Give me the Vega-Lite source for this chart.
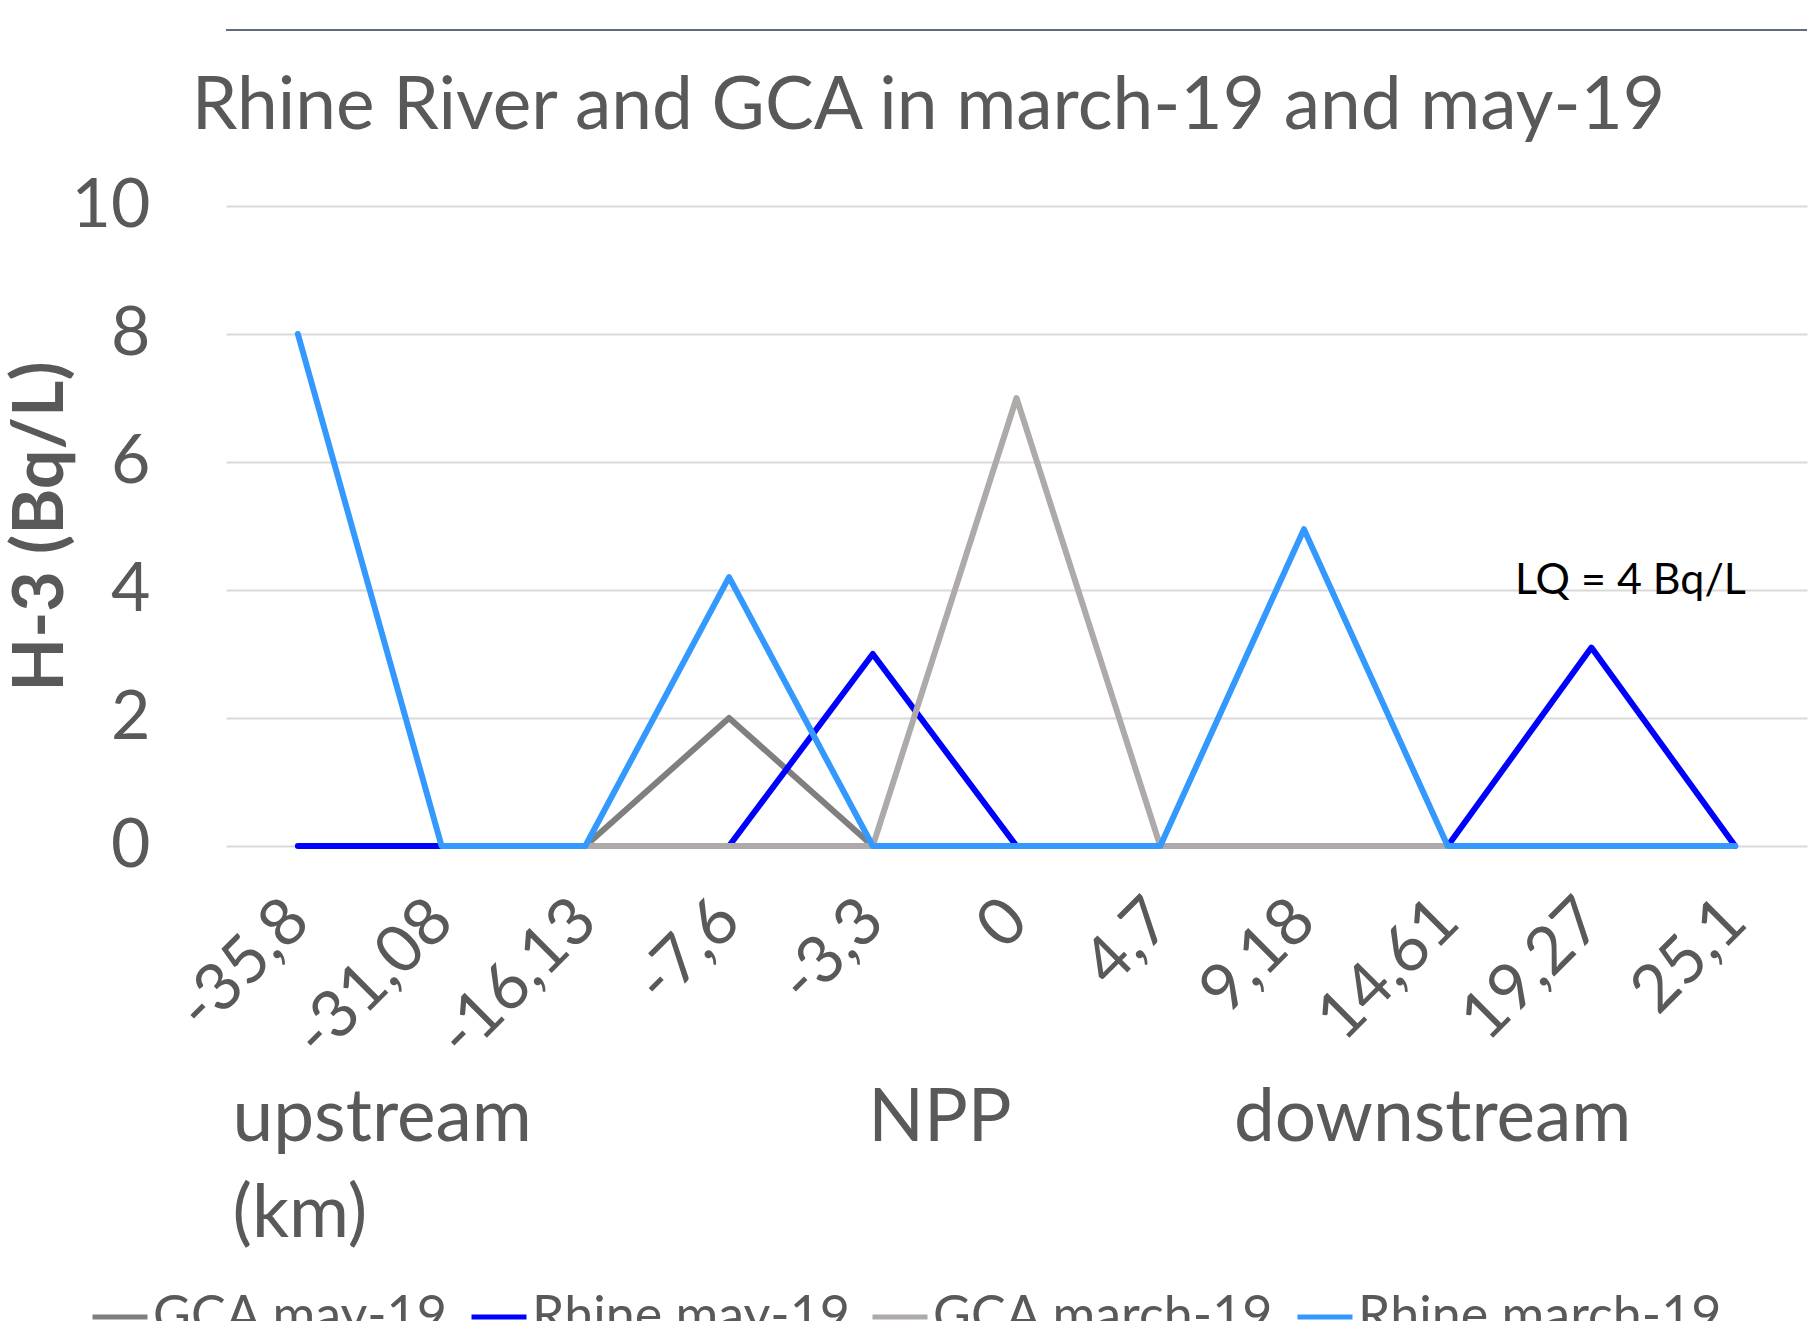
{
  "$schema": "https://vega.github.io/schema/vega-lite/v6.json",
  "autosize": {"type": "none"},
  "padding": {"left": 226, "top": 206, "right": 8, "bottom": 475},
  "width": 1581,
  "height": 640,
  "background": "white",
  "title": {
    "text": "Rhine River and GCA in march-19 and may-19",
    "font": "Lato", "fontSize": 73, "fontWeight": "normal", "color": "#595959",
    "anchor": "middle", "frame": "group", "dx": -88, "baseline": "alphabetic", "offset": -173
  },
  "config": {"view": {"stroke": null}, "font": "Lato", "line": {"strokeWidth": 5}},
  "data": {
    "values": [
      {"series": "GCA may-19", "km": "-16,13", "value": 0},
      {"series": "GCA may-19", "km": "-7,6", "value": 2},
      {"series": "GCA may-19", "km": "-3,3", "value": 0},
      {"series": "GCA may-19", "km": "0", "value": 0},
      {"series": "GCA may-19", "km": "4,7", "value": 0},
      {"series": "GCA may-19", "km": "9,18", "value": 0},
      {"series": "GCA may-19", "km": "14,61", "value": 0},
      {"series": "Rhine may-19", "km": "-35,8", "value": 0},
      {"series": "Rhine may-19", "km": "-31,08", "value": 0},
      {"series": "Rhine may-19", "km": "-16,13", "value": 0},
      {"series": "Rhine may-19", "km": "-7,6", "value": 0},
      {"series": "Rhine may-19", "km": "-3,3", "value": 3},
      {"series": "Rhine may-19", "km": "0", "value": 0},
      {"series": "Rhine may-19", "km": "4,7", "value": 0},
      {"series": "Rhine may-19", "km": "9,18", "value": 0},
      {"series": "Rhine may-19", "km": "14,61", "value": 0},
      {"series": "Rhine may-19", "km": "19,27", "value": 3.1},
      {"series": "Rhine may-19", "km": "25,1", "value": 0},
      {"series": "GCA march-19", "km": "-16,13", "value": 0},
      {"series": "GCA march-19", "km": "-7,6", "value": 0},
      {"series": "GCA march-19", "km": "-3,3", "value": 0},
      {"series": "GCA march-19", "km": "0", "value": 7},
      {"series": "GCA march-19", "km": "4,7", "value": 0},
      {"series": "GCA march-19", "km": "9,18", "value": 0},
      {"series": "GCA march-19", "km": "14,61", "value": 0},
      {"series": "Rhine march-19", "km": "-35,8", "value": 8},
      {"series": "Rhine march-19", "km": "-31,08", "value": 0},
      {"series": "Rhine march-19", "km": "-16,13", "value": 0},
      {"series": "Rhine march-19", "km": "-7,6", "value": 4.2},
      {"series": "Rhine march-19", "km": "-3,3", "value": 0},
      {"series": "Rhine march-19", "km": "0", "value": 0},
      {"series": "Rhine march-19", "km": "4,7", "value": 0},
      {"series": "Rhine march-19", "km": "9,18", "value": 4.95},
      {"series": "Rhine march-19", "km": "14,61", "value": 0},
      {"series": "Rhine march-19", "km": "19,27", "value": 0},
      {"series": "Rhine march-19", "km": "25,1", "value": 0}
    ]
  },
  "layer": [
    {
      "mark": {"type": "line", "strokeWidth": 6, "strokeCap": "round", "strokeJoin": "round"},
      "encoding": {
        "x": {
          "field": "km", "type": "nominal",
          "sort": ["-35,8", "-31,08", "-16,13", "-7,6", "-3,3", "0", "4,7", "9,18", "14,61", "19,27", "25,1"],
          "axis": {
            "title": ["upstream\u00a0\u00a0\u00a0\u00a0\u00a0\u00a0\u00a0\u00a0\u00a0\u00a0\u00a0\u00a0\u00a0\u00a0\u00a0\u00a0\u00a0\u00a0NPP\u00a0\u00a0\u00a0\u00a0\u00a0\u00a0\u00a0\u00a0\u00a0\u00a0\u00a0\u00a0downstream", "(km)"],
            "titleFont": "Lato", "titleFontSize": 73, "titleFontWeight": "normal", "titleColor": "#595959",
            "titleAnchor": "start", "titleAlign": "left", "titleBaseline": "alphabetic",
            "titleX": 6, "titleY": 294, "titleLineHeight": 96,
            "labelAngle": -45, "labelFont": "Lato", "labelFontSize": 66, "labelColor": "#595959",
            "labelAlign": "right", "labelBaseline": "middle", "labelPadding": 64, "labelLimit": 0,
            "domain": false, "ticks": false, "grid": false
          }
        },
        "y": {
          "field": "value", "type": "quantitative",
          "scale": {"domain": [0, 10], "nice": false},
          "axis": {
            "title": "H-3 (Bq/L)", "titleFont": "Lato", "titleFontSize": 70, "titleFontWeight": "bold",
            "titleColor": "#595959", "titlePadding": -6, "format": "d",
            "labelFont": "Lato", "labelFontSize": 68, "labelColor": "#595959", "labelPadding": 76,
            "ticks": false, "tickSize": 0, "domain": false, "grid": true, "gridColor": "#d9d9d9", "gridWidth": 2,
            "values": [0, 2, 4, 6, 8, 10]
          }
        },
        "color": {
          "field": "series", "type": "nominal",
          "scale": {
            "domain": ["GCA may-19", "Rhine may-19", "GCA march-19", "Rhine march-19"],
            "range": ["#7f7f7f", "#0000ff", "#aeaaaa", "#3399ff"]
          },
          "legend": {
            "orient": "none", "legendX": -136, "legendY": 1081, "direction": "horizontal",
            "title": null, "symbolType": "stroke", "symbolSize": 3025, "symbolStrokeWidth": 5,
            "labelFont": "Lato", "labelFontSize": 52, "labelColor": "#595959",
            "columnPadding": 12, "labelOffset": 3, "padding": 0, "labelLimit": 0
          }
        }
      }
    },
    {
      "mark": {"type": "rule", "color": "#636a7a", "strokeWidth": 2, "clip": false},
      "encoding": {"y": {"datum": 12.75, "type": "quantitative"}}
    },
    {
      "data": {"values": [{"km": "19,27", "value": 4, "note": "LQ = 4 Bq/L"}]},
      "mark": {"type": "text", "dx": 39, "dy": -9, "fontSize": 43, "font": "Lato", "color": "black", "align": "center", "baseline": "middle"},
      "encoding": {
        "x": {"field": "km", "type": "nominal", "sort": ["-35,8", "-31,08", "-16,13", "-7,6", "-3,3", "0", "4,7", "9,18", "14,61", "19,27", "25,1"]},
        "y": {"field": "value", "type": "quantitative"},
        "text": {"field": "note"}
      }
    }
  ]
}
